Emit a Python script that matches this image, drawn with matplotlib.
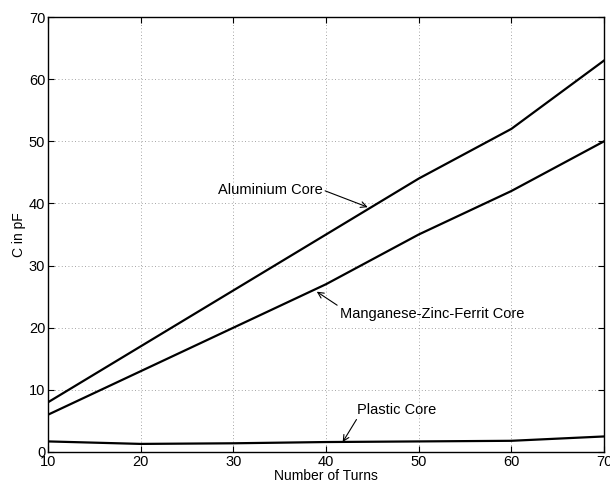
import matplotlib
matplotlib.use("Agg")
import matplotlib.pyplot as plt

turns = [10, 20, 30, 40, 50, 60, 70]
aluminium = [8, 17, 26, 35, 44, 52, 63]
mnzn = [6, 13, 20, 27, 35, 42, 50]
plastic = [1.7, 1.3, 1.4, 1.6, 1.7, 1.8, 2.5]

plt.rcParams['font.family'] = ['Liberation Sans', 'DejaVu Sans']
plt.rcParams['font.size'] = 10

fig = plt.figure(figsize=(6.1, 4.87), dpi=100)
ax = fig.add_axes([0.0787, 0.0719, 0.9115, 0.8931])

for y in (aluminium, mnzn, plastic):
    ax.plot(turns, y, color='black', lw=1.6)

ax.set_xlim(10, 70)
ax.set_ylim(0, 70)
ax.set_xticks(turns)
ax.set_yticks(range(0, 71, 10))
ax.grid(True, linestyle=(0, (1, 3)), color='#888888', lw=0.6)
ax.tick_params(direction='in', top=True, right=True, length=4, pad=2, labelsize=10.5)
for s in ax.spines.values():
    s.set_linewidth(1.0)
ax.set_xlabel('Number of Turns', labelpad=0)
ax.set_ylabel('C in pF', labelpad=2)

def ap(rp):
    return dict(arrowstyle='->', lw=0.8, color='black', shrinkA=0, shrinkB=0,
                relpos=rp)

ax.annotate('Aluminium Core', xy=(44.5, 39.4), xytext=(28.3, 42.2),
            ha='left', va='center', fontsize=10.5, arrowprops=ap((1, 0.5)))
ax.annotate('Manganese-Zinc-Ferrit Core', xy=(39.0, 25.8), xytext=(41.5, 22.2),
            ha='left', va='center', fontsize=10.5, arrowprops=ap((0, 1)))
ax.annotate('Plastic Core', xy=(41.8, 1.6), xytext=(43.3, 6.8),
            ha='left', va='center', fontsize=10.5, arrowprops=ap((0.02, 0)))

fig.savefig('out.png', dpi=100)
